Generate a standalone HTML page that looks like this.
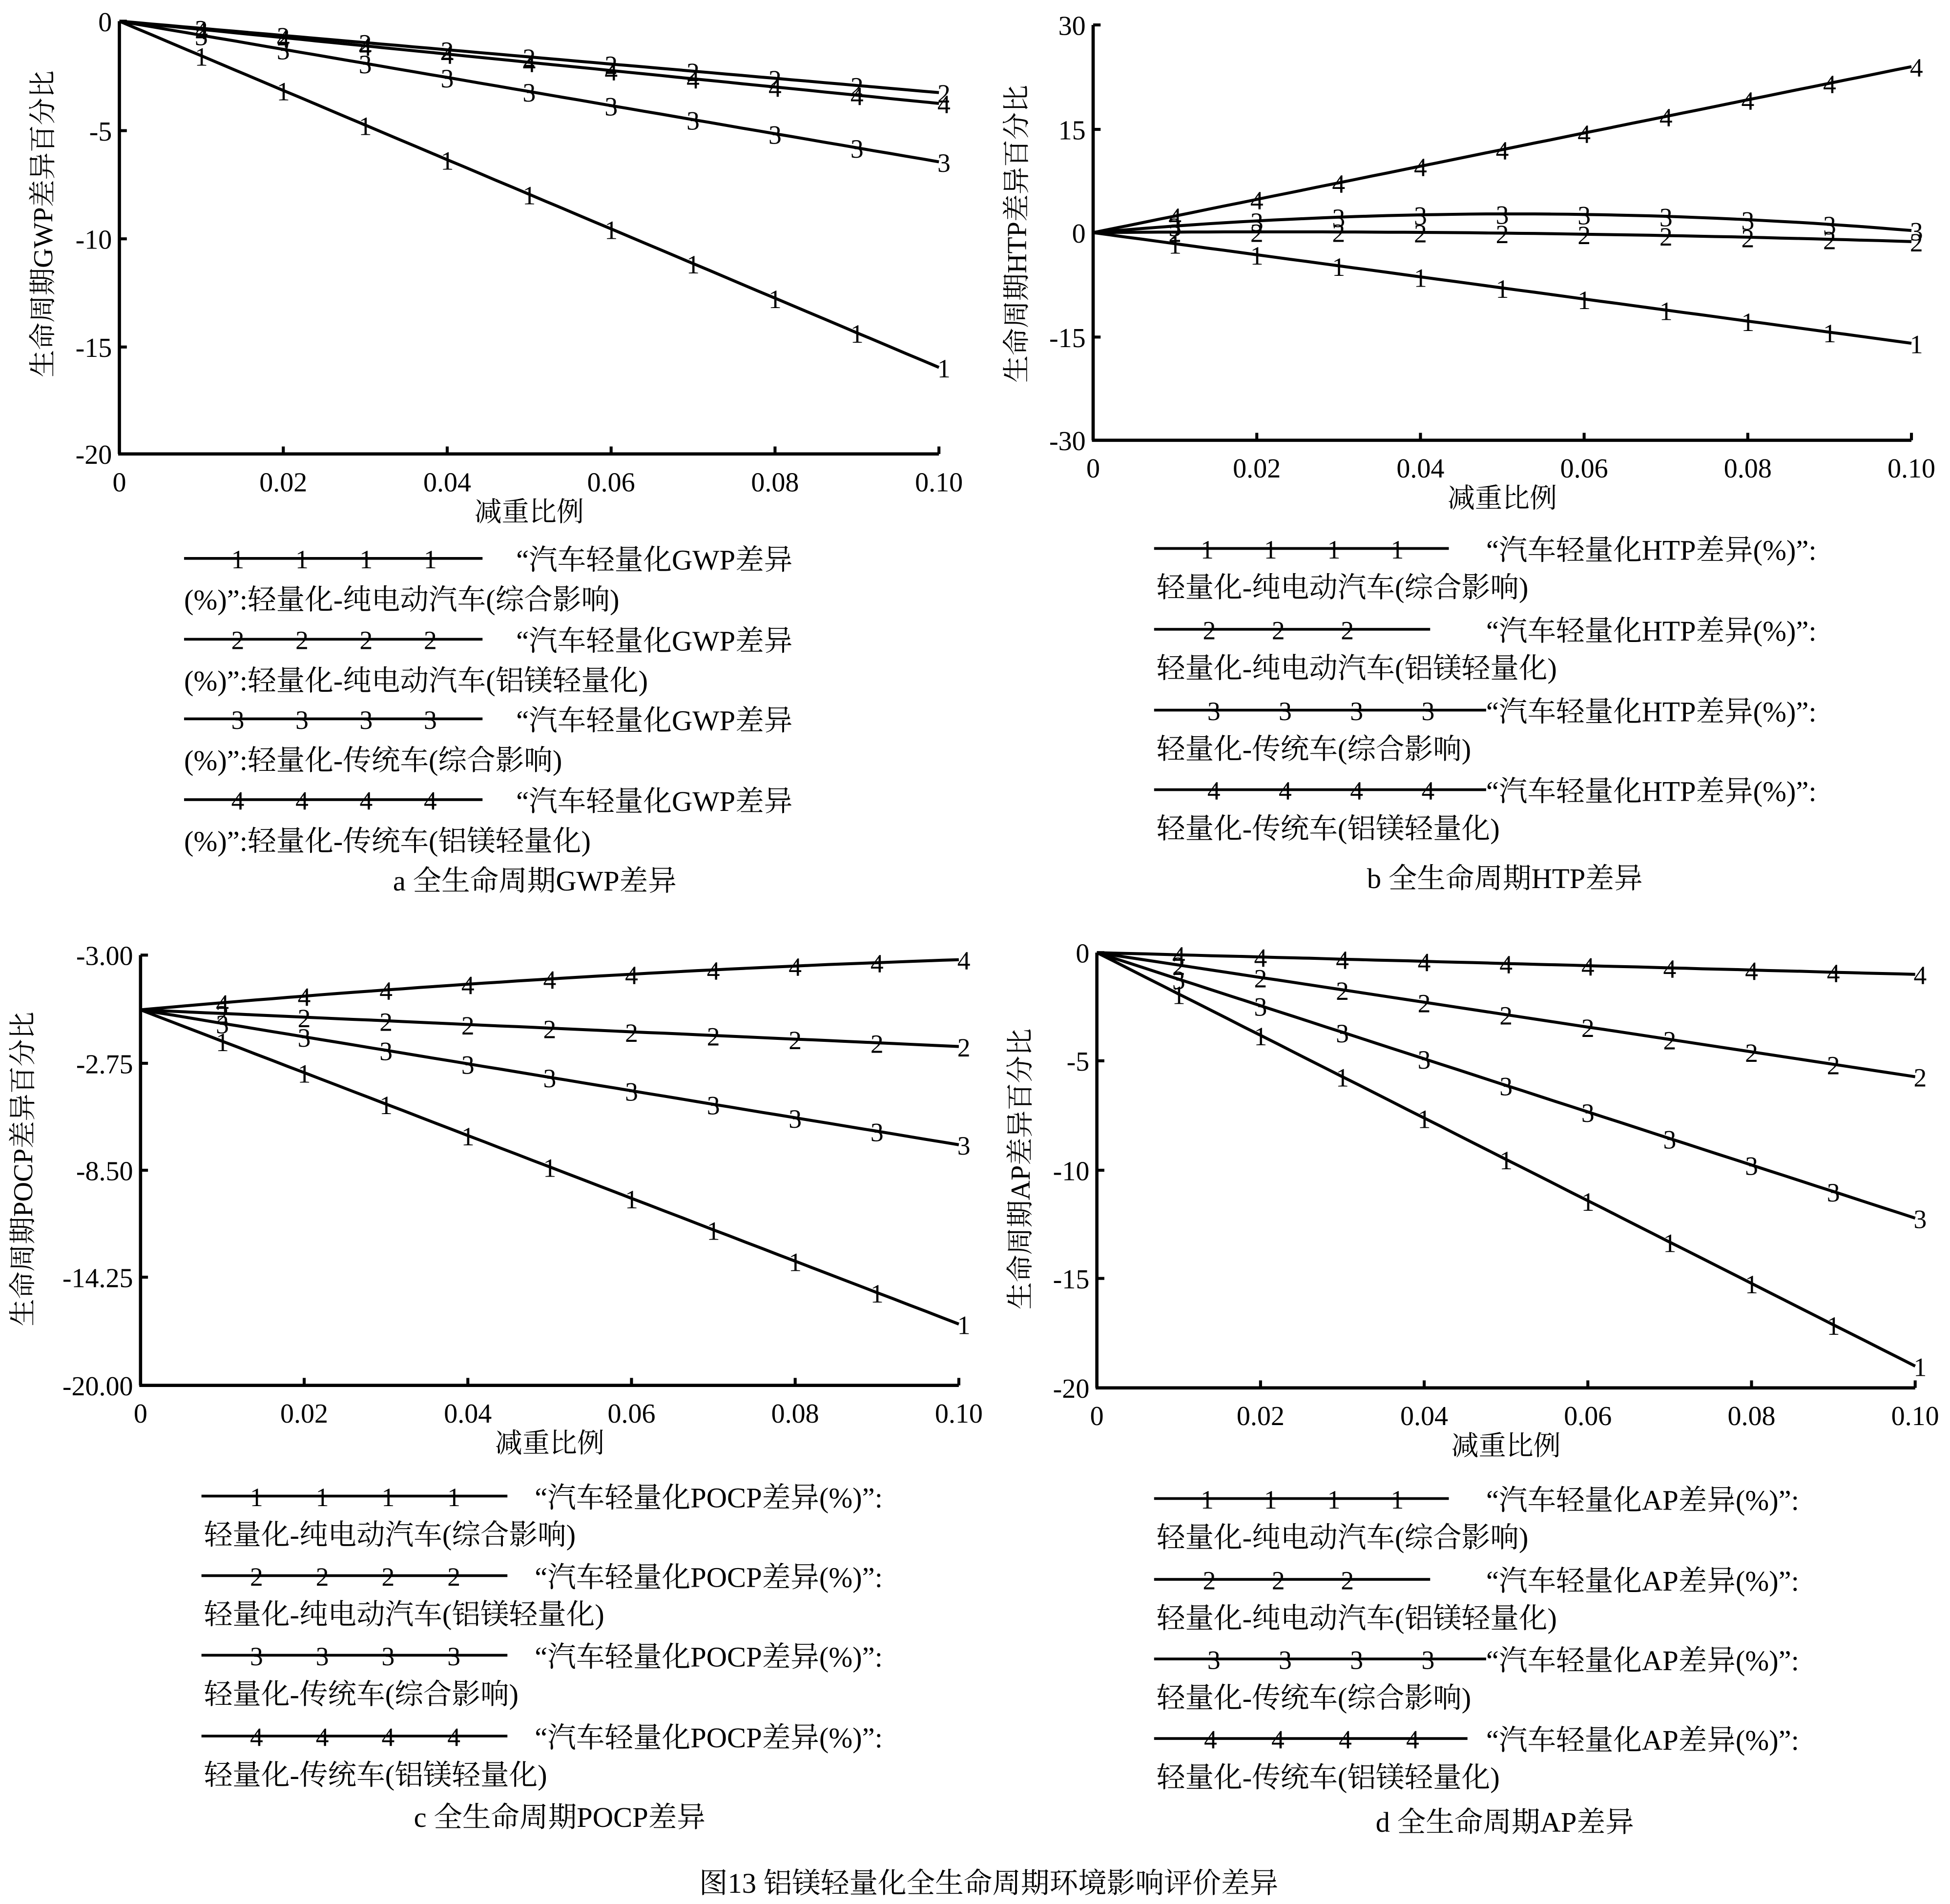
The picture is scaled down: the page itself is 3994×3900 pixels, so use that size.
<!DOCTYPE html>
<html><head><meta charset="utf-8">
<style>
html,body{margin:0;padding:0;background:#fff;}
svg{display:block;}
text{font-family:"Liberation Serif","Noto Serif CJK SC",serif;fill:#000;}
</style></head>
<body>
<svg id="s" xmlns="http://www.w3.org/2000/svg" width="3994" height="3900" viewBox="0 0 1568 1531">
<rect width="1568" height="1531" fill="#fff"/>
</svg>
<script>
var s=document.getElementById('s');var out='';
function T(x,y,t,sz,anc,extra){out+='<text x="'+x+'" y="'+y+'" font-size="'+sz+'" text-anchor="'+(anc||'start')+'" '+(extra||'')+'>'+t+'</text>';}
function L(x1,y1,x2,y2,w){out+='<line x1="'+x1+'" y1="'+y1+'" x2="'+x2+'" y2="'+y2+'" stroke="#000" stroke-width="'+(w||2.4)+'"/>';}
function panel(p){
 var X=function(v){return p.x0+(p.x1-p.x0)*v/0.1;};
 var Y=function(v){return p.yz+(v-p.yv0)*(p.ys);};
 L(p.x0,p.yt,p.x0,p.yb,2.6);L(p.x0-1,p.yb,p.x1,p.yb,2.6);
 p.yticks.forEach(function(t){L(p.x0,t[0],p.x0+6,t[0],2.4);T(p.x0-6,t[0]+8,t[1],22,'end');});
 ['0','0.02','0.04','0.06','0.08','0.10'].forEach(function(l,i){var x=X(i*0.02);if(i>0)L(x,p.yb,x,p.yb-6,2.4);T(x,p.yb+30,l,22,'middle');});
 T((p.x0+p.x1)/2,p.yb+54,'减重比例',22,'middle');
 T(p.ytx,p.ytc,p.ytitle,22,'middle','transform="rotate(-90 '+p.ytx+' '+p.ytc+')"');
 p.series.forEach(function(sr,k){
  var pts=[];for(var i=0;i<=50;i++){var v=i*0.002;pts.push(X(v).toFixed(1)+','+Y(sr(v)).toFixed(1));}
  out+='<polyline points="'+pts.join(' ')+'" fill="none" stroke="#000" stroke-width="2.4"/>';
  for(var j=1;j<=10;j++){var v=j*0.01;T(X(v)+(j==10?4:0),Y(sr(v))+8,String(k+1),21,'middle');}
 });
}
// a
panel({x0:96,x1:755,yt:17,yb:365,yz:17,yv0:0,ys:-17.4,
 yticks:[[17,'0'],[105,'-5'],[192,'-10'],[279,'-15'],[365,'-20']],
 ytx:42,ytc:180,ytitle:'生命周期GWP差异百分比',
 series:[function(v){return -160*v},function(v){return -33*v},function(v){return -65*v},function(v){return -38*v}]});
// b
panel({x0:879,x1:1537,yt:20,yb:354,yz:187,yv0:0,ys:-5.56,
 yticks:[[20,'30'],[104,'15'],[187,'0'],[271,'-15'],[354,'-30']],
 ytx:825,ytc:188,ytitle:'生命周期HTP差异百分比',
 series:[function(v){return -160*v},function(v){return 10*v-230*v*v},function(v){return 105*v-1020*v*v},function(v){return 240*v}]});
// c
panel({x0:113,x1:771,yt:768,yb:1114,yz:812,yv0:0,ys:-15.5,
 yticks:[[768,'-3.00'],[855,'-2.75'],[941,'-8.50'],[1027,'-14.25'],[1114,'-20.00']],
 ytx:26,ytc:940,ytitle:'生命周期POCP差异百分比',
 series:[function(v){return -163*v},function(v){return -19*v},function(v){return -70*v},function(v){return 38*v-120*v*v}]});
// d
panel({x0:882,x1:1540,yt:766,yb:1116,yz:766,yv0:0,ys:-17.5,
 yticks:[[766,'0'],[853,'-5'],[941,'-10'],[1028,'-15'],[1116,'-20']],
 ytx:828,ytc:940,ytitle:'生命周期AP差异百分比',
 series:[function(v){return -190*v},function(v){return -57*v},function(v){return -122*v},function(v){return -10*v}]});
// legends
var subs=['纯电动汽车(综合影响)','纯电动汽车(铝镁轻量化)','传统车(综合影响)','传统车(铝镁轻量化)'];
function leg(lx,le,ys,tx,name,two,nmark,cap,capx,capy,lens){
 for(var k=0;k<4;k++){
  var y=ys[k];var e=lens?lens[k]:le;L(lx,y,e,y,2.2);
  var n=nmark[k];for(var j=0;j<n;j++){var x=lx+(e-lx)*(0.18+j*0.215);if(n==3)x=lx+(e-lx)*(0.2+j*0.25);T(x,y+8,String(k+1),21,'middle');}
  if(two){T(tx,y+9,'“汽车轻量化'+name+'差异',23);T(lx,y+41,'(%)”:轻量化-'+subs[k],23);}
  else{T(tx,y+9,'“汽车轻量化'+name+'差异(%)”:',23);T(lx+2,y+39,'轻量化-'+subs[k],23);}
 }
 T(capx,capy,cap,23,'middle');
}
leg(148,388,[449,514,578,643],415,'GWP',true,[4,4,4,4],'a  全生命周期GWP差异',430,716);
leg(928,1165,[441,506,571,635],1195,'HTP',false,[4,3,4,4],'b  全生命周期HTP差异',1210,714,[1165,1150,1195,1195]);
leg(162,408,[1203,1267,1331,1396],430,'POCP',false,[4,4,4,4],'c  全生命周期POCP差异',450,1469);
leg(928,1165,[1205,1270,1334,1398],1195,'AP',false,[4,3,4,4],'d  全生命周期AP差异',1210,1473,[1165,1150,1195,1180]);
T(795,1522,'图13   铝镁轻量化全生命周期环境影响评价差异',23,'middle');
s.insertAdjacentHTML('beforeend',out);
</script>
</body></html>
